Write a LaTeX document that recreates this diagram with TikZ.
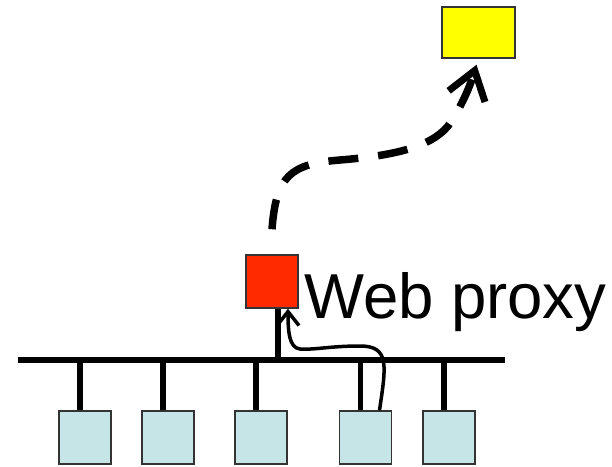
\documentclass[tikz,border=0pt]{standalone}
\usepackage{fontspec}
\setmainfont{Liberation Sans}
\usetikzlibrary{arrows.meta,calc}

\definecolor{hostblue}{HTML}{C5E5E6}
\definecolor{proxyred}{HTML}{FF2A00}
\definecolor{serveryellow}{HTML}{FFFF00}

\newcommand*{\busy}{106}

\begin{document}
\begin{tikzpicture}
[
	x=1pt,y=1pt,
	box/.style={draw=black!80,line width=1.5pt,inner sep=0pt},
	host/.style={box,fill=hostblue,minimum width=52pt,minimum height=53pt},
	wire/.style={line width=5.5pt},
	trip/.style={line width=7.5pt,dash pattern=on 30pt off 20pt,-{Straight Barb[length=27pt,width=38pt,line width=7pt]}},
	hop/.style={line width=3.5pt,-{Straight Barb[length=14pt,width=22pt,line width=3.5pt]}}
]
	\useasboundingbox (0,0) rectangle (612,466);

	% the LAN
	\coordinate (busl) at (18,\busy);
	\coordinate (busr) at (505,\busy);
	\draw[wire] (busl) -- (busr);

	\foreach \i/\x in {1/85,2/168,3/261,4/365.5,5/449}
	{
		\node[host] (h\i) at (\x,28.5) {};
		\draw[wire] ([xshift=-5pt]h\i.north) -- ([xshift=-5pt]h\i.north |- busl);
	}

	% proxy and the far server
	\node[box,fill=proxyred,minimum width=52pt,minimum height=53pt] (proxy) at (272,184.5) {};
	\node[box,fill=serveryellow,minimum width=73pt,minimum height=51pt] (server) at (478.5,433.5) {};
	\node[anchor=base west,inner sep=0pt,font=\fontsize{63.5}{76}\selectfont] (label) at (304,148) {Web proxy};

	\draw[wire] ([xshift=6pt]proxy.south) -- ([xshift=6pt]proxy.south |- busl);

	% request goes to the proxy, then out
	\draw[hop] ([xshift=14pt]h4.north) .. controls (386,100) and (390,120) .. (360,120)
		.. controls (330,120) and (315,116) .. (300,117)
		.. controls (289,118) and (288,135) .. ([xshift=16pt]proxy.south);
	\draw[trip] ([yshift=25pt]proxy.north) .. controls (276,290) and (290,302) .. (340,306)
		.. controls (390,310) and (430,318) .. (448,340)
		.. controls (462,360) and (470,380) .. ([shift={(-2,-6)}]server.south);

\end{tikzpicture}
\end{document}
